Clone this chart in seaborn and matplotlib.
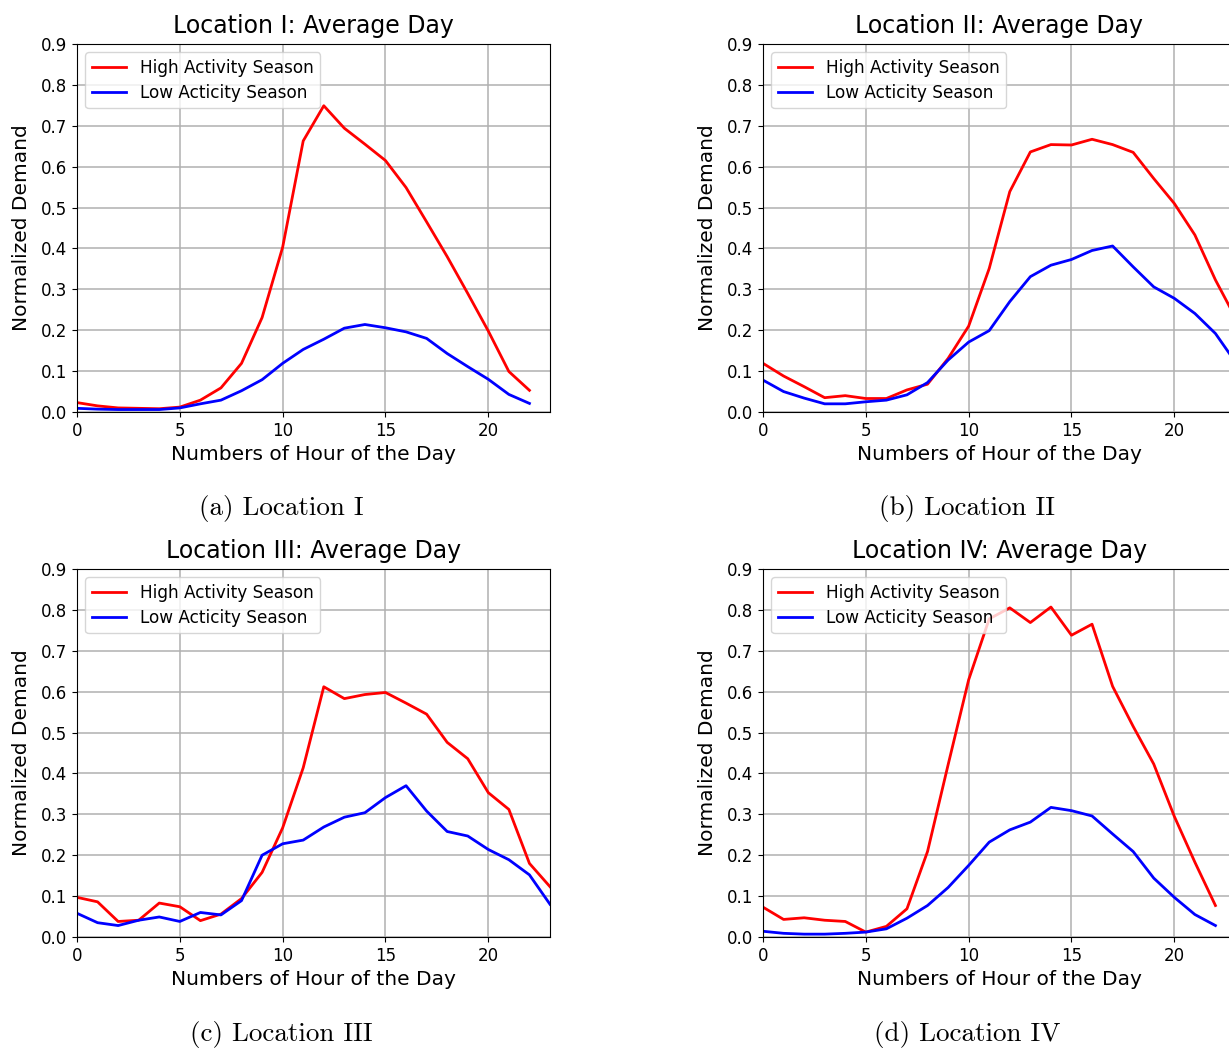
import numpy as np
import pandas as pd
import seaborn as sns
import matplotlib.pyplot as plt

# hourly normalized demand
hours = list(range(24))

high_1 = [0.023, 0.015, 0.010, 0.009, 0.008, 0.012, 0.029, 0.059, 0.119, 0.231, 0.403, 0.663,
          0.749, 0.694, 0.655, 0.615, 0.549, 0.465, 0.380, 0.290, 0.198, 0.099, 0.053]
low_1 = [0.009, 0.007, 0.006, 0.006, 0.006, 0.010, 0.020, 0.029, 0.052, 0.079, 0.119, 0.153,
         0.178, 0.205, 0.214, 0.206, 0.196, 0.180, 0.143, 0.111, 0.080, 0.043, 0.021]

high_2 = [0.119, 0.088, 0.062, 0.035, 0.040, 0.033, 0.033, 0.054, 0.068, 0.131, 0.210, 0.351,
          0.539, 0.636, 0.654, 0.653, 0.667, 0.654, 0.635, 0.571, 0.510, 0.433, 0.323, 0.228]
low_2 = [0.078, 0.050, 0.034, 0.020, 0.020, 0.025, 0.029, 0.042, 0.072, 0.127, 0.171, 0.199,
         0.270, 0.331, 0.359, 0.373, 0.395, 0.406, 0.355, 0.306, 0.278, 0.241, 0.192, 0.120]

high_3 = [0.097, 0.086, 0.038, 0.041, 0.083, 0.074, 0.040, 0.056, 0.094, 0.158, 0.267, 0.414,
          0.612, 0.583, 0.593, 0.598, 0.572, 0.545, 0.476, 0.436, 0.353, 0.312, 0.180, 0.123]
low_3 = [0.058, 0.035, 0.028, 0.041, 0.049, 0.038, 0.060, 0.054, 0.089, 0.200, 0.228, 0.237,
         0.269, 0.293, 0.304, 0.341, 0.370, 0.308, 0.258, 0.247, 0.214, 0.189, 0.152, 0.080]

high_4 = [0.073, 0.043, 0.047, 0.041, 0.038, 0.012, 0.026, 0.069, 0.209, 0.421, 0.629, 0.778,
          0.805, 0.769, 0.807, 0.738, 0.765, 0.613, 0.515, 0.423, 0.295, 0.183, 0.077]
low_4 = [0.014, 0.009, 0.007, 0.007, 0.009, 0.012, 0.020, 0.046, 0.077, 0.121, 0.175, 0.232,
         0.262, 0.281, 0.317, 0.309, 0.296, 0.252, 0.209, 0.144, 0.097, 0.055, 0.028]

locations = ['I', 'II', 'III', 'IV']
captions = ['(a) Location I', '(b) Location II', '(c) Location III', '(d) Location IV']
series = [(high_1, low_1), (high_2, low_2), (high_3, low_3), (high_4, low_4)]

W, H = 1229, 1048
fig = plt.figure(figsize=(W / 100, H / 100), dpi=100)

# axes boxes in pixels: left, top
boxes = [(77, 44), (763, 44), (77, 569), (763, 569)]
aw, ah = 473, 368

for loc, cap, (high, low), (lx, ty) in zip(locations, captions, series, boxes):
    ax = fig.add_axes([lx / W, 1 - (ty + ah) / H, aw / W, ah / H])
    df = pd.DataFrame({
        'hour': hours[:len(high)] + hours[:len(low)],
        'demand': high + low,
        'season': ['High Activity Season'] * len(high) + ['Low Acticity Season'] * len(low),
    })
    sns.lineplot(data=df, x='hour', y='demand', hue='season',
                 palette=['red', 'blue'], linewidth=2, ax=ax)
    ax.set_xlim(0, 23)
    ax.set_ylim(0, 0.9)
    ax.set_xticks([0, 5, 10, 15, 20])
    ax.set_yticks(np.arange(0, 0.91, 0.1))
    ax.set_yticklabels([f'{v:.1f}' for v in np.arange(0, 0.91, 0.1)])
    ax.grid(True, color='#b0b0b0', linewidth=1.1)
    ax.tick_params(labelsize=12)
    ax.set_title(f'Location {loc}: Average Day', fontsize=17, pad=8)
    ax.set_xlabel('Numbers of Hour of the Day', fontsize=14.5)
    ax.set_ylabel('Normalized Demand', fontsize=14.5, labelpad=7)
    leg = ax.legend(loc='upper left', fontsize=12.2, labelspacing=0.38)
    leg.set_title(None)
    fig.text((lx + 204) / W, 1 - (ty + ah + 97) / H, cap,
             ha='center', va='center', fontsize=19.5, family='cmr10')

fig.savefig('out.png', dpi=100)
